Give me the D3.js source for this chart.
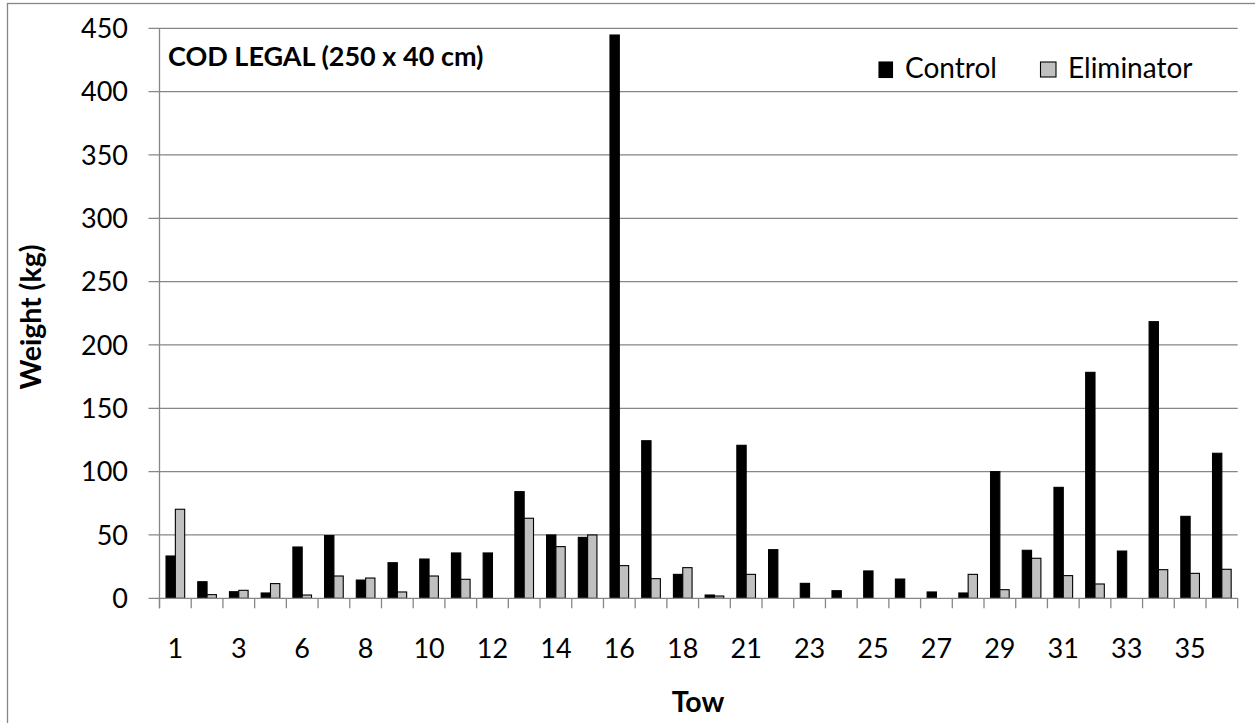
<!DOCTYPE html>
<html>
<head>
<meta charset="utf-8">
<script src="https://cdn.jsdelivr.net/npm/d3@7"></script>
<style>
  html, body { margin: 0; padding: 0; background: #fff; }
  svg { display: block; font-family: Lato, "Open Sans", sans-serif; }
</style>
</head>
<body>
<svg id="chart" width="1255" height="723"></svg>
<script>
// ---- data ----
const tows = ["1","2","3","4","6","7","8","9","10","11","12","13","14","15","16","17","18","19",
              "21","22","23","24","25","26","27","28","29","30","31","32","33","34","35","36"];
const controlValues = [33.4, 13.1, 5.2, 4.2, 40.5, 49.5, 14.4, 28.1, 31, 35.8, 35.8, 84.2, 50, 48.1,
                       444.7, 124.4, 18.9, 2.6, 120.8, 38.4, 11.8, 6, 21.6, 15.2, 5, 4.2, 100, 37.9,
                       87.6, 178.4, 37.3, 218.4, 64.7, 114.5];
const eliminatorValues = [70.3, 2.9, 6.3, 11.6, 2.6, 17.6, 16, 5, 17.6, 15, 0, 63.2, 40.8, 50,
                          25.8, 15.5, 24.2, 1.8, 18.9, 0, 0, 0, 0, 0, 0, 18.9, 6.8, 31.6,
                          17.9, 11.3, 0, 22.6, 19.7, 22.9];
const seriesNames = ["Control", "Eliminator"];
const seriesColors = ["#000000", "#C0C0C0"];
const yTicks = [0, 50, 100, 150, 200, 250, 300, 350, 400, 450];
const chartTitle = "COD LEGAL (250 x 40 cm)";
const xTitle = "Tow";
const yTitle = "Weight (kg)";

// ---- layout ----
const svg = d3.select("#chart");
const plot = { left: 159.5, right: 1237.7, top: 28.3, bottom: 598.3 };
const axisColor = "#868686";

// outer chart border
svg.append("rect").attr("x", 7.5).attr("y", 3.5).attr("width", 1300).attr("height", 800)
  .attr("fill", "none").attr("stroke", axisColor).attr("stroke-width", 1.3);

const x0 = d3.scaleBand().domain(tows).range([plot.left, plot.right]).padding(0);
const x1 = d3.scaleBand().domain(seriesNames).range([0, x0.bandwidth()])
  .paddingInner(0).paddingOuter(0.7);
const y = d3.scaleLinear().domain([0, 450]).range([plot.bottom, plot.top]);

// gridlines
svg.append("g").selectAll("line").data(yTicks.filter(d => d > 0)).join("line")
  .attr("x1", plot.left - 11).attr("x2", plot.right)
  .attr("y1", d => y(d)).attr("y2", d => y(d))
  .attr("stroke", axisColor).attr("stroke-width", 1.3);

// y tick labels
svg.append("g").selectAll("text").data(yTicks).join("text")
  .attr("x", 128).attr("y", d => y(d)).attr("dy", "0.36em")
  .attr("text-anchor", "end").attr("font-size", 27).attr("fill", "#000")
  .text(d => d);

// bars
const rows = tows.map((t, i) => ({ tow: t, vals: [controlValues[i], eliminatorValues[i]] }));
const groups = svg.append("g").selectAll("g").data(rows).join("g")
  .attr("transform", d => `translate(${x0(d.tow)},0)`);
groups.selectAll("rect")
  .data(d => d.vals.map((v, j) => ({ name: seriesNames[j], v, j })).filter(e => e.v > 0))
  .join("rect")
  .attr("x", e => x1(e.name))
  .attr("width", x1.bandwidth())
  .attr("y", e => y(e.v))
  .attr("height", e => y(0) - y(e.v))
  .attr("fill", e => seriesColors[e.j])
  .attr("stroke", "#000").attr("stroke-width", 1.1);

// axes lines
svg.append("line").attr("x1", plot.left).attr("x2", plot.left)
  .attr("y1", plot.top).attr("y2", plot.bottom + 10)
  .attr("stroke", axisColor).attr("stroke-width", 1.3);
svg.append("line").attr("x1", plot.left - 11).attr("x2", plot.right)
  .attr("y1", plot.bottom).attr("y2", plot.bottom)
  .attr("stroke", axisColor).attr("stroke-width", 1.3);

// x ticks between categories
const edges = tows.map(t => x0(t)).concat([plot.right]);
svg.append("g").selectAll("line").data(edges).join("line")
  .attr("x1", d => d).attr("x2", d => d)
  .attr("y1", plot.bottom).attr("y2", plot.bottom + 10)
  .attr("stroke", axisColor).attr("stroke-width", 1.3);

// x labels (every other)
svg.append("g").selectAll("text").data(tows.filter((t, i) => i % 2 === 0)).join("text")
  .attr("x", d => x0(d) + x0.bandwidth() / 2).attr("y", 658)
  .attr("text-anchor", "middle").attr("font-size", 27).attr("fill", "#000")
  .text(d => d);

// titles
svg.append("text").attr("x", 168).attr("y", 66)
  .attr("font-size", 27).attr("font-weight", "bold").text(chartTitle);
svg.append("text").attr("x", 698).attr("y", 712).attr("text-anchor", "middle")
  .attr("font-size", 28.5).attr("font-weight", "bold").text(xTitle);
svg.append("text").attr("transform", "translate(41,317) rotate(-90)").attr("text-anchor", "middle")
  .attr("font-size", 28.5).attr("font-weight", "bold").text(yTitle);

// legend
const legend = [
  { name: seriesNames[0], color: seriesColors[0], bx: 879, by: 62, bw: 13.5, bh: 15.5, tx: 905 },
  { name: seriesNames[1], color: seriesColors[1], bx: 1040.5, by: 62, bw: 15.5, bh: 15, tx: 1068 }
];
const lg = svg.append("g").selectAll("g").data(legend).join("g");
lg.append("rect").attr("x", d => d.bx).attr("y", d => d.by).attr("width", d => d.bw).attr("height", d => d.bh)
  .attr("fill", d => d.color).attr("stroke", "#000").attr("stroke-width", 1.1);
lg.append("text").attr("x", d => d.tx).attr("y", 77.5).attr("font-size", 28).text(d => d.name);
</script>
</body>
</html>
